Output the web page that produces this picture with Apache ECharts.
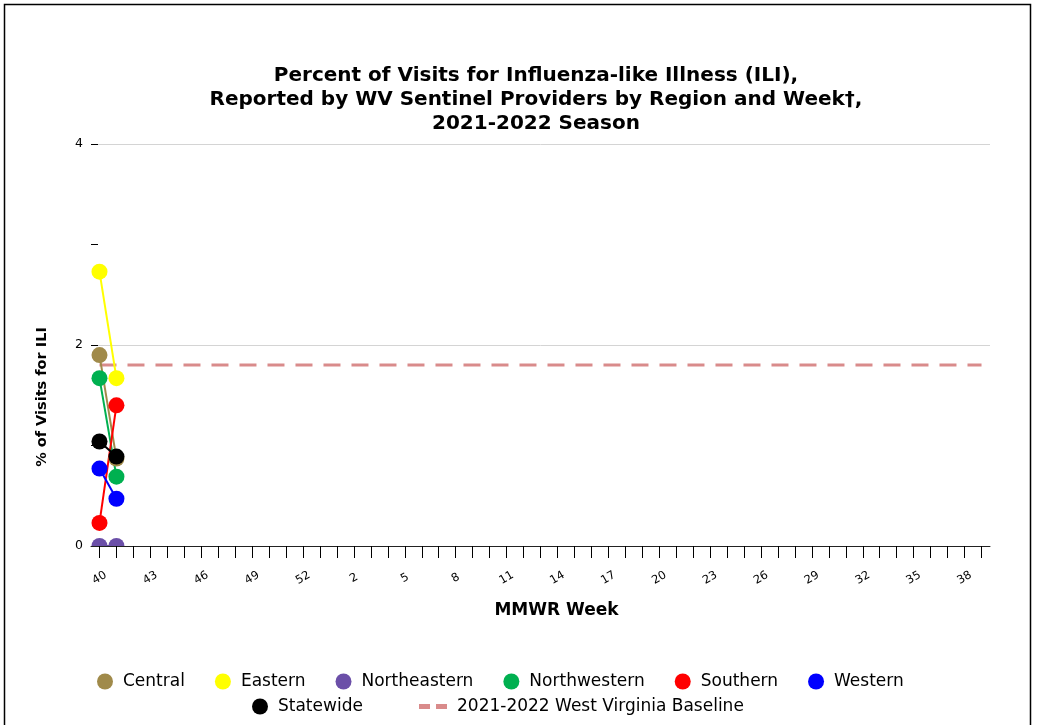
<!DOCTYPE html>
<html><head><meta charset="utf-8">
<script src="https://cdn.jsdelivr.net/npm/echarts@6/dist/echarts.min.js"></script>
<style>html,body{margin:0;padding:0;background:#fff}#c{width:1038px;height:725px}</style>
</head><body><div id="c"></div>
<script>
const weeks = ['40','41','42','43','44','45','46','47','48','49','50','51','52','53',
  '1','2','3','4','5','6','7','8','9','10','11','12','13','14','15','16','17','18','19','20',
  '21','22','23','24','25','26','27','28','29','30','31','32','33','34','35','36','37','38','39'];
const central = [1.90, 0.87];
const eastern = [2.73, 1.67];
const northeastern = [0, 0];
const northwestern = [1.67, 0.69];
const southern = [0.23, 1.40];
const western = [0.77, 0.47];
const statewide = [1.04, 0.89];
const baselineValue = 1.80;
const baseline = weeks.map(() => baselineValue);

const regions = [
  ['Central', central, '#a08a4a'],
  ['Eastern', eastern, '#ffff00'],
  ['Northeastern', northeastern, '#6b4fa8'],
  ['Northwestern', northwestern, '#00b050'],
  ['Southern', southern, '#ff0000'],
  ['Western', western, '#0000ff'],
  ['Statewide', statewide, '#000000']
];
const baselineName = '2021-2022 West Virginia Baseline';

const chart = echarts.init(document.getElementById('c'));
const series = regions.map(([name, data, color]) => ({
  name, type: 'line', data, color, symbol: 'circle', symbolSize: 16,
  showSymbol: true, showAllSymbol: true,
  lineStyle: {width: 2, color}, itemStyle: {color}, z: 3
}));
series.push({
  name: baselineName, type: 'line', data: baseline,
  symbol: 'none', color: '#d98b8b',
  lineStyle: {width: 3, type: [17, 11], color: '#d98b8b'}, z: 2
});

const legendText = {fontFamily: 'DejaVu Sans', fontSize: 17, color: '#000', padding: [0, 0, 0, 5]};
chart.setOption({
  animation: false,
  backgroundColor: '#fff',
  title: {
    text: 'Percent of Visits for Influenza-like Illness (ILI),\nReported by WV Sentinel Providers by Region and Week†,\n2021-2022 Season',
    left: 531, top: 59, textAlign: 'center',
    textStyle: {fontFamily: 'DejaVu Sans', fontWeight: 'bold', fontSize: 20, lineHeight: 24, color: '#000'}
  },
  graphic: [
    {type: 'rect', shape: {x: 4.5, y: 4.5, width: 1026, height: 740}, style: {fill: 'none', stroke: '#000', lineWidth: 1.5}, silent: true},
    {type: 'rect', z: 4, shape: {x: 91, y: 547, width: 899, height: 12}, style: {fill: '#fff'}, silent: true},
    {type: 'text', x: 42, y: 397, rotation: Math.PI / 2,
     style: {text: '% of Visits for ILI', fontFamily: 'DejaVu Sans', fontWeight: 'bold', fontSize: 14.5, fill: '#000', align: 'center', verticalAlign: 'middle'}}
  ],
  legend: [
    {data: regions.slice(0, 6).map(r => r[0]), top: 668, left: 92, itemGap: 30,
     icon: 'circle', itemWidth: 16, itemHeight: 16, textStyle: legendText},
    {data: ['Statewide'], top: 693, left: 247,
     icon: 'circle', itemWidth: 16, itemHeight: 16, textStyle: legendText},
    {data: [baselineName], top: 693, left: 414,
     icon: 'path://M0,0 H11 V5 H0 Z M17,0 H28 V5 H17 Z', itemWidth: 28, itemHeight: 5, textStyle: legendText}
  ],
  grid: {left: 91, right: 48, top: 144, bottom: 179},
  xAxis: {
    type: 'category', data: weeks, boundaryGap: true, z: 6,
    name: 'MMWR Week', nameLocation: 'middle', nameGap: 56,
    nameTextStyle: {fontFamily: 'DejaVu Sans', fontWeight: 'bold', fontSize: 17, color: '#000', padding: [0, 0, 0, 32]},
    axisLine: {show: true, lineStyle: {color: '#222', width: 1}},
    axisTick: {show: true, alignWithLabel: true, interval: 0, length: 12, lineStyle: {color: '#000'}},
    axisLabel: {show: true, interval: 2, rotate: 30, align: 'center', verticalAlign: 'middle',
      fontFamily: 'DejaVu Sans', fontSize: 11.5, color: '#000', margin: 32}
  },
  yAxis: [
    {type: 'value', min: 0, max: 4, interval: 2,
     axisLine: {show: false}, axisTick: {show: false},
     axisLabel: {fontFamily: 'DejaVu Sans', fontSize: 12.5, color: '#000', margin: 8},
     splitLine: {lineStyle: {color: '#d4d4d4', width: 1}}},
    {type: 'value', min: 0, max: 4, interval: 1, position: 'left',
     axisLine: {show: false}, axisLabel: {show: false}, splitLine: {show: false},
     axisTick: {show: true, inside: true, length: 7, lineStyle: {color: '#000'}}}
  ],
  series
});
</script></body></html>
